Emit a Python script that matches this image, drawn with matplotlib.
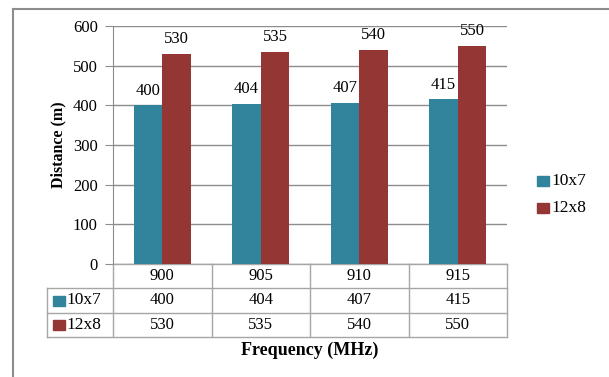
import matplotlib
matplotlib.use("Agg")
import matplotlib.pyplot as plt
from matplotlib.transforms import blended_transform_factory
from matplotlib.patches import Rectangle
from matplotlib.lines import Line2D
import numpy as np

plt.rcParams['font.family'] = ['Liberation Serif', 'DejaVu Serif']

frequencies = ["900", "905", "910", "915"]
series_names = ["10x7", "12x8"]
dist_10x7 = [400, 404, 407, 415]
dist_12x8 = [530, 535, 540, 550]
y_ticks = [0, 100, 200, 300, 400, 500, 600]
colors = ["#31849B", "#943634"]

NUM_FS = 12
W, H = 609, 377
fig = plt.figure(figsize=(W / 100, H / 100), dpi=100)

# axes placement in pixels (left, top, right, bottom)
L, T, R, B = 113, 26, 507, 264
ax = fig.add_axes([L / W, 1 - B / H, (R - L) / W, (B - T) / H])

x = np.arange(len(frequencies))
bw = 0.29
series = [dist_10x7, dist_12x8]
for i, (vals, c) in enumerate(zip(series, colors)):
    pos = x + (i - 0.5) * bw
    ax.bar(pos, vals, width=bw, color=c, zorder=3)
    for p, v in zip(pos, vals):
        ax.text(p, v + 27, str(v), ha="center", va="baseline", fontsize=NUM_FS, zorder=4)

ax.set_xlim(-0.5, len(frequencies) - 0.5)
ax.set_ylim(0, 600)
ax.set_yticks(y_ticks)
ax.yaxis.grid(True, color="#8c8c8c", linewidth=1, zorder=0)
ax.set_xticks([])
for s in ["top", "right", "bottom"]:
    ax.spines[s].set_visible(False)
ax.spines["left"].set_color("#8c8c8c")
ax.tick_params(axis="y", length=6, color="#8c8c8c", labelsize=NUM_FS, pad=5)
ax.set_ylabel("Distance (m)", fontweight="bold", fontsize=11.5, labelpad=5)

# data table below the plot
tr = blended_transform_factory(ax.transData, ax.transAxes)
h_px = B - T
row_y = [0, -(288 - B) / h_px, -(313 - B) / h_px, -(337 - B) / h_px]
tbl_left = -0.5 - (L - 47) / ((R - L) / len(frequencies))
gc = "#a6a6a6"
xr = len(frequencies) - 0.5
# horizontal lines
ax.plot([-0.5, xr], [row_y[0]] * 2, transform=tr, color=gc, lw=1, clip_on=False)
for yy in row_y[1:]:
    ax.plot([tbl_left, xr], [yy] * 2, transform=tr, color=gc, lw=1, clip_on=False)
# vertical lines
for k in range(len(frequencies) + 1):
    xx = k - 0.5
    ax.plot([xx, xx], [row_y[0], row_y[3]], transform=tr, color=gc, lw=1, clip_on=False)
ax.plot([tbl_left, tbl_left], [row_y[1], row_y[3]], transform=tr, color=gc, lw=1, clip_on=False)

for k, f in enumerate(frequencies):
    ax.text(k, (row_y[0] + row_y[1]) / 2, f, transform=tr, ha="center", va="center",
            fontsize=NUM_FS)
    for r, vals in enumerate(series):
        ax.text(k, (row_y[r + 1] + row_y[r + 2]) / 2, str(vals[k]), transform=tr,
                ha="center", va="center", fontsize=NUM_FS)

# row headers with colour keys
for r, (name, c) in enumerate(zip(series_names, colors)):
    yc = (row_y[r + 1] + row_y[r + 2]) / 2
    ypix = B - yc * h_px
    fig.add_artist(Rectangle((53 / W, 1 - (ypix + 5) / H), 12 / W, 10 / H,
                             transform=fig.transFigure, color=c))
    fig.text(66 / W, 1 - ypix / H, name, ha="left", va="center", fontsize=12.5)

fig.text(310 / W, 1 - 350 / H, "Frequency (MHz)", ha="center", va="center",
         fontsize=13, fontweight="bold")

# legend
for r, (name, c) in enumerate(zip(series_names, colors)):
    ypix = 181 + r * 27
    fig.add_artist(Rectangle((537 / W, 1 - (ypix + 5) / H), 12 / W, 10 / H,
                             transform=fig.transFigure, color=c))
    fig.text(551 / W, 1 - ypix / H, name, ha="left", va="center", fontsize=12.5)

# frame: top and left edges only
fig.add_artist(Line2D([13 / W, 13 / W], [1 - 9 / H, 0], transform=fig.transFigure,
                      color="#8c8c8c", lw=1.5))
fig.add_artist(Line2D([13 / W, 1], [1 - 9 / H, 1 - 9 / H], transform=fig.transFigure,
                      color="#8c8c8c", lw=1.5))

fig.savefig("out.png", dpi=100)
